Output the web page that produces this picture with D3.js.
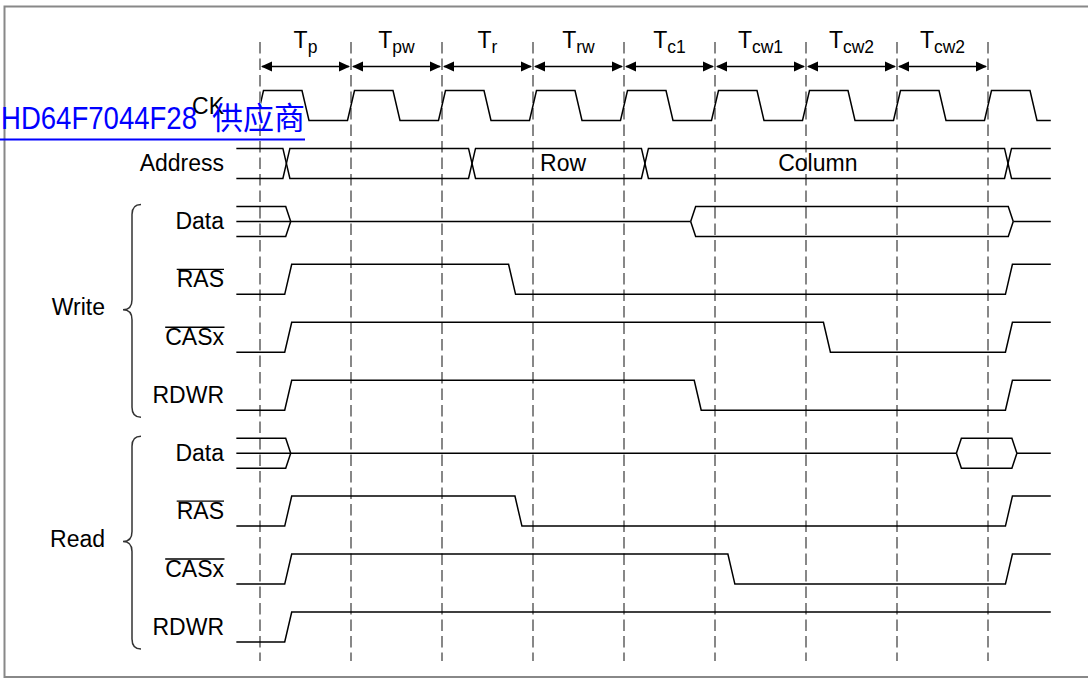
<!DOCTYPE html>
<html>
<head>
<meta charset="utf-8">
<script src="https://cdn.jsdelivr.net/npm/d3@7"></script>
<style>
  body { margin: 0; background: #fff; }
  svg { display: block; }
  text { font-family: "Liberation Sans", Arial, sans-serif; }
</style>
</head>
<body>
<svg width="1088" height="679"></svg>
<script>

// Period names under the T labels, one per clock cycle
const periodSubs = ["p", "pw", "r", "rw", "c1", "cw1", "cw2", "cw2"];
const cycleMarks = [0, 1, 2, 3, 4, 5, 6, 7, 8];

// Rows, top to bottom, and the name printed left of each trace
const rowIds    = ["ck", "addr", "wData", "wRAS", "wCAS", "wRDWR", "rData", "rRAS", "rCAS", "rRDWR"];
const rowLabels = ["CK", "Address", "Data", "RAS", "CASx", "RDWR", "Data", "RAS", "CASx", "RDWR"];
const rowActiveLow = [false, false, false, true, true, false, false, true, true, false];

// Groups with their brace (first row, last row)
const groupNames = ["Write", "Read"];
const groupRows  = [["wData", "wRDWR"], ["rData", "rRDWR"]];

// Everything below is in clock periods, 0 = first dashed line
const traceStart = -0.26;
const traceEnd   = 8.69;

// CK edges
const ckRise = [0, 1, 2, 3, 4, 5, 6, 7, 8];
const ckFall = [0.5, 1.5, 2.5, 3.5, 4.5, 5.5, 6.5, 7.5, 8.5];

// Address bus crossings and the values shown on it
const addrCross  = [0.29, 2.33, 4.23, 8.22];
const addrText   = ["Row", "Column"];
const addrTextAt = [3.33, 6.13];

// Data bus: windows where the bus is driven [from, to]
const wDataValid = [[traceStart, 0.31], [4.76, 8.25]];
const rDataValid = [[traceStart, 0.31], [7.68, 8.29]];

// Control lines: [time, new level]; every line starts low
const wRAS   = [[0.31, 1], [2.77, 0], [8.23, 1]];
const wCAS   = [[0.31, 1], [6.23, 0], [8.23, 1]];
const wRDWR  = [[0.31, 1], [4.81, 0], [8.23, 1]];
const rRAS   = [[0.31, 1], [2.84, 0], [8.23, 1]];
const rCAS   = [[0.31, 1], [5.18, 0], [8.23, 1]];
const rRDWR  = [[0.31, 1]];

// Link text laid over the CK label
const linkText = ["HD64F7044F28", "供应商"];


/* - - - - - - - - - - - - - - - - - - - - - - - - - -
 * Drawing
 * - - - - - - - - - - - - - - - - - - - - - - - - - -
 */

const svg = d3.select("svg");

const x = d3.scaleLinear().domain([0, 8]).range([260, 988]);
const y = d3.scalePoint().domain(rowIds).range([105.5, 627]);
const amp = 15;      // half height of a trace
const edge = 3.5;    // half width of a slanted edge, px
const line = d3.line();

// frame
svg.append("rect")
   .attr("x", 4.5).attr("y", 6.5)
   .attr("width", 1100).attr("height", 670.5)
   .attr("fill", "none")
   .attr("stroke", "#888")
   .attr("stroke-width", 2);

// dashed cycle lines
svg.selectAll("line.cycle")
   .data(cycleMarks)
   .enter()
   .append("line")
   .attr("class", "cycle")
   .attr("x1", d => x(d)).attr("x2", d => x(d))
   .attr("y1", 42).attr("y2", 661)
   .attr("stroke", "#555")
   .attr("stroke-width", 1.4)
   .attr("stroke-dasharray", "11.5,5");

// period arrows
const arrowY = 66.5;
const arrows = svg.append("g");
periodSubs.forEach(function(s, i) {
    let a = x(cycleMarks[i]), b = x(cycleMarks[i + 1]);
    arrows.append("path")
        .attr("d", line([[a + 2, arrowY], [b - 2, arrowY]]))
        .attr("stroke", "#000").attr("stroke-width", 1.5);
    arrows.append("path")
        .attr("d", line([[a + 1, arrowY], [a + 12, arrowY - 5], [a + 12, arrowY + 5]]) + "Z")
        .attr("fill", "#000");
    arrows.append("path")
        .attr("d", line([[b - 1, arrowY], [b - 12, arrowY - 5], [b - 12, arrowY + 5]]) + "Z")
        .attr("fill", "#000");

    let t = svg.append("text")
        .attr("x", (a + b) / 2)
        .attr("y", 48)
        .attr("text-anchor", "middle")
        .attr("font-size", 23);
    t.append("tspan").text("T");
    t.append("tspan").attr("font-size", 17.5).attr("dy", 5).text(s);
});

// row labels
rowIds.forEach(function(id, i) {
    let t = svg.append("text")
        .attr("x", 224)
        .attr("y", y(id) + 8)
        .attr("text-anchor", "end")
        .attr("font-size", 23)
        .attr("fill", "#000")
        .text(rowLabels[i]);
    if (rowActiveLow[i]) {
        let bb = t.node().getBBox();
        svg.append("path")
           .attr("d", line([[bb.x, y(id) - 10], [bb.x + bb.width, y(id) - 10]]))
           .attr("stroke", "#000").attr("stroke-width", 1.4);
    }
});

// group braces
groupNames.forEach(function(g, i) {
    let top = y(groupRows[i][0]) - 17;
    let bot = y(groupRows[i][1]) + 22;
    let mid = (top + bot) / 2 - 1;
    let p = d3.path();
    p.moveTo(141, top);
    p.bezierCurveTo(135, top, 132, top + 3, 132, top + 10);
    p.lineTo(132, mid - 10);
    p.bezierCurveTo(132, mid - 3, 128, mid, 123, mid);
    p.bezierCurveTo(128, mid, 132, mid + 3, 132, mid + 10);
    p.lineTo(132, bot - 10);
    p.bezierCurveTo(132, bot - 3, 135, bot, 141, bot);
    svg.append("path")
       .attr("d", p.toString())
       .attr("fill", "none")
       .attr("stroke", "#333")
       .attr("stroke-width", 1.5);
    svg.append("text")
       .attr("x", 105)
       .attr("y", mid + 5)
       .attr("text-anchor", "end")
       .attr("font-size", 23)
       .text(g);
});

const traces = svg.append("g")
    .attr("fill", "none")
    .attr("stroke", "#000")
    .attr("stroke-width", 1.5);

// digital line from a list of [time, level]
function digital(row, changes) {
    let yc = y(row);
    let lv = l => l ? yc - amp : yc + amp;
    let cur = 0;
    let pts = [[x(traceStart), lv(cur)]];
    changes.forEach(function(c) {
        pts.push([x(c[0]) - edge, lv(cur)]);
        pts.push([x(c[0]) + edge, lv(c[1])]);
        cur = c[1];
    });
    pts.push([x(traceEnd), lv(cur)]);
    return traces.append("path").attr("d", line(pts));
}

// CK, clipped at the first dashed line
svg.append("clipPath").attr("id", "ckclip")
   .append("rect").attr("x", x(0) + 1).attr("y", 0).attr("width", 1000).attr("height", 200);
let ckChanges = ckRise.map(t => [t, 1]).concat(ckFall.map(t => [t, 0]))
                      .sort((a, b) => a[0] - b[0]);
digital("ck", ckChanges).attr("clip-path", "url(#ckclip)");

digital("wRAS", wRAS);
digital("wCAS", wCAS);
digital("wRDWR", wRDWR);
digital("rRAS", rRAS);
digital("rCAS", rCAS);
digital("rRDWR", rRDWR);

// address bus: two rails swapping at each crossing
[0, 1].forEach(function(r) {
    let yc = y("addr");
    let rail = k => (k % 2 === 0) ? yc - amp : yc + amp;
    let k = r;
    let pts = [[x(traceStart), rail(k)]];
    addrCross.forEach(function(c) {
        pts.push([x(c) - edge, rail(k)]);
        k++;
        pts.push([x(c) + edge, rail(k)]);
    });
    pts.push([x(traceEnd), rail(k)]);
    traces.append("path").attr("d", line(pts));
});
addrText.forEach(function(s, i) {
    svg.append("text")
       .attr("x", x(addrTextAt[i]))
       .attr("y", y("addr") + 8)
       .attr("text-anchor", "middle")
       .attr("font-size", 23)
       .text(s);
});

// data bus: open windows plus the floating mid line
function dataBus(row, windows) {
    let yc = y(row);
    let h = 2.5;
    windows.forEach(function(w) {
        [-1, 1].forEach(function(side) {
            let yr = yc + side * amp;
            let pts = [];
            if (w[0] <= traceStart) pts.push([x(w[0]), yr]);
            else pts.push([x(w[0]) - h, yc], [x(w[0]) + h, yr]);
            if (w[1] >= traceEnd) pts.push([x(w[1]), yr]);
            else pts.push([x(w[1]) - h, yr], [x(w[1]) + h, yc]);
            traces.append("path").attr("d", line(pts));
        });
    });
    // mid line breaks only where a window opens after the start
    let from = x(traceStart);
    windows.filter(w => w[0] > traceStart).forEach(function(w) {
        traces.append("path").attr("d", line([[from, yc], [x(w[0]) - h, yc]]));
        from = x(w[1]) + h;
    });
    traces.append("path").attr("d", line([[from, yc], [x(traceEnd), yc]]));
}
dataBus("wData", wDataValid);
dataBus("rData", rDataValid);

// link text over the CK label
let link = svg.append("text")
    .attr("y", 128.5)
    .attr("font-size", 31)
    .attr("fill", "#0000ff");
link.append("tspan")
    .attr("x", 1)
    .attr("textLength", 196)
    .attr("lengthAdjust", "spacingAndGlyphs")
    .text(linkText[0]);
link.append("tspan")
    .attr("x", 212)
    .style("font-family", "'Noto Sans CJK SC', sans-serif")
    .text(linkText[1]);
svg.append("path")
   .attr("d", line([[0, 139.5], [305, 139.5]]))
   .attr("stroke", "#0000ff")
   .attr("stroke-width", 2);

</script>
</body>
</html>
